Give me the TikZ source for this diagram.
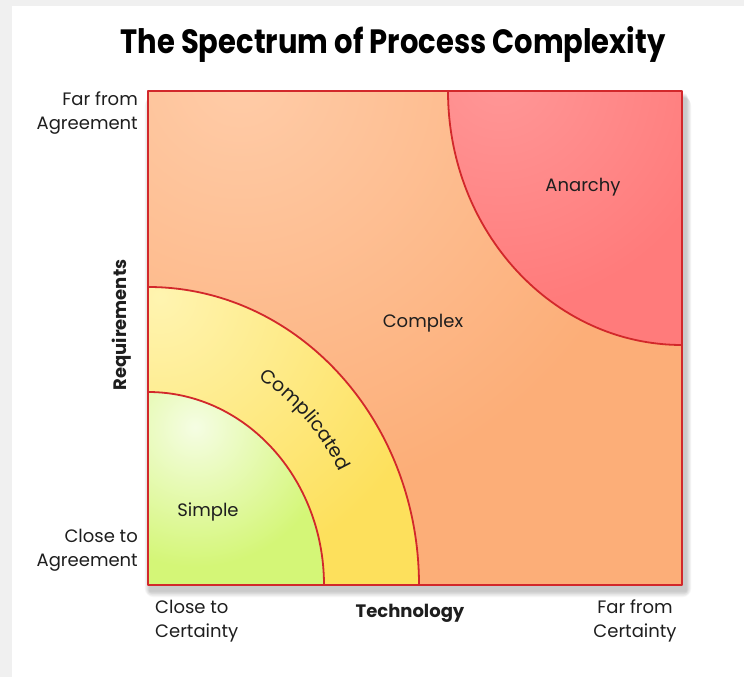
\documentclass[tikz,border=0pt]{standalone}
\usepackage{fontspec}
\setmainfont{Poppins}
\usetikzlibrary{decorations.text}

\definecolor{pagegray}{HTML}{F0F0F0}
\definecolor{edgered}{HTML}{D2282B}
\definecolor{inktext}{HTML}{1E1E1E}
\definecolor{complexbase}{HTML}{FCAE78}
\definecolor{complexlight}{HTML}{FFCCA8}
\definecolor{anarchybase}{HTML}{FF7B7B}
\definecolor{anarchylight}{HTML}{FF9797}
\definecolor{complicatedbase}{HTML}{FDE05C}
\definecolor{complicatedlight}{HTML}{FFF4B0}
\definecolor{simplebase}{HTML}{D4F677}
\definecolor{simplelight}{HTML}{F5FDE3}

\tikzset{
  zoneedge/.style={draw=edgered, line width=1.8pt, line join=round},
  label/.style={text=inktext, font=\fontsize{18}{24}\selectfont, inner sep=0pt},
  axislabel/.style={text=inktext, font=\fontsize{18}{24}\selectfont\bfseries, inner sep=0pt},
}

\begin{document}
\begin{tikzpicture}[x=1pt,y=1pt]
\useasboundingbox (0,0) rectangle (744,677);

% page background
\fill[pagegray] (0,0) rectangle (744,677);
\fill[white] (12,0) rectangle (744,671);

% soft shadow under the chart
\foreach \s in {1,...,9}{
  \fill[black, opacity=0.022, rounded corners=\s pt]
    (150-0.6*\s, 86-0.7*\s) rectangle (686+0.6*\s, 584-0.5*\s);
}

% complex: the whole square
\begin{scope}
  \clip (148,92) rectangle (682,586);
  \fill[complexbase] (148,92) rectangle (682,586);
  \shade[inner color=complexlight, outer color=complexbase] (240,600) circle (430);
\end{scope}

% complicated band
\begin{scope}
  \clip (148,92) -- (419,92) arc[start angle=0, end angle=90, x radius=271, y radius=298] -- cycle;
  \fill[complicatedbase] (148,92) rectangle (419,390);
  \shade[inner color=complicatedlight, outer color=complicatedbase] (160,380) circle (290);
\end{scope}

% simple core
\begin{scope}
  \clip (148,92) -- (324,92) arc[start angle=0, end angle=90, x radius=176, y radius=193] -- cycle;
  \fill[simplebase] (148,92) rectangle (324,285);
  \shade[inner color=simplelight, outer color=simplebase] (195,250) circle (140);
\end{scope}

% anarchy corner
\begin{scope}
  \clip (682,586) -- (448,586) arc[start angle=180, end angle=270, x radius=234, y radius=254] -- cycle;
  \fill[anarchybase] (448,332) rectangle (682,586);
  \shade[inner color=anarchylight, outer color=anarchybase] (500,600) circle (230);
\end{scope}

% zone boundaries
\draw[zoneedge] (324,92) arc[start angle=0, end angle=90, x radius=176, y radius=193];
\draw[zoneedge] (419,92) arc[start angle=0, end angle=90, x radius=271, y radius=298];
\draw[zoneedge] (448,586) arc[start angle=180, end angle=270, x radius=234, y radius=254];
\draw[zoneedge] (148,92) rectangle (682,586);

% title
\node[text=black, inner sep=0pt, anchor=base] (title) at (393,623)
  {\resizebox{545pt}{27pt}{\bfseries The Spectrum of Process Complexity}};

% zone labels
\node[label] (anarchy) at (583,490) {Anarchy};
\node[label] (complex) at (423,354) {Complex};
\node[label] (simple) at (208,165) {Simple};
\path[decorate, decoration={text along path, text align=center,
    text={|\fontsize{19}{22}\selectfont\color{inktext}|Complicated}}]
  (148,332) arc[start angle=90, end angle=0, x radius=217, y radius=240];

% requirements axis
\node[label, align=right, anchor=east] (reqfar) at (138,564) {Far from\\Agreement};
\node[label, align=right, anchor=east] (reqclose) at (138,127) {Close to\\Agreement};
\node[axislabel, rotate=90] (reqaxis) at (122,352) {Requirements};

% technology axis
\node[label, align=left, anchor=west] (techclose) at (155,56) {Close to\\Certainty};
\node[axislabel] (techaxis) at (410,64) {Technology};
\node[label, align=center] (techfar) at (635,56) {Far from\\Certainty};
\end{tikzpicture}
\end{document}
